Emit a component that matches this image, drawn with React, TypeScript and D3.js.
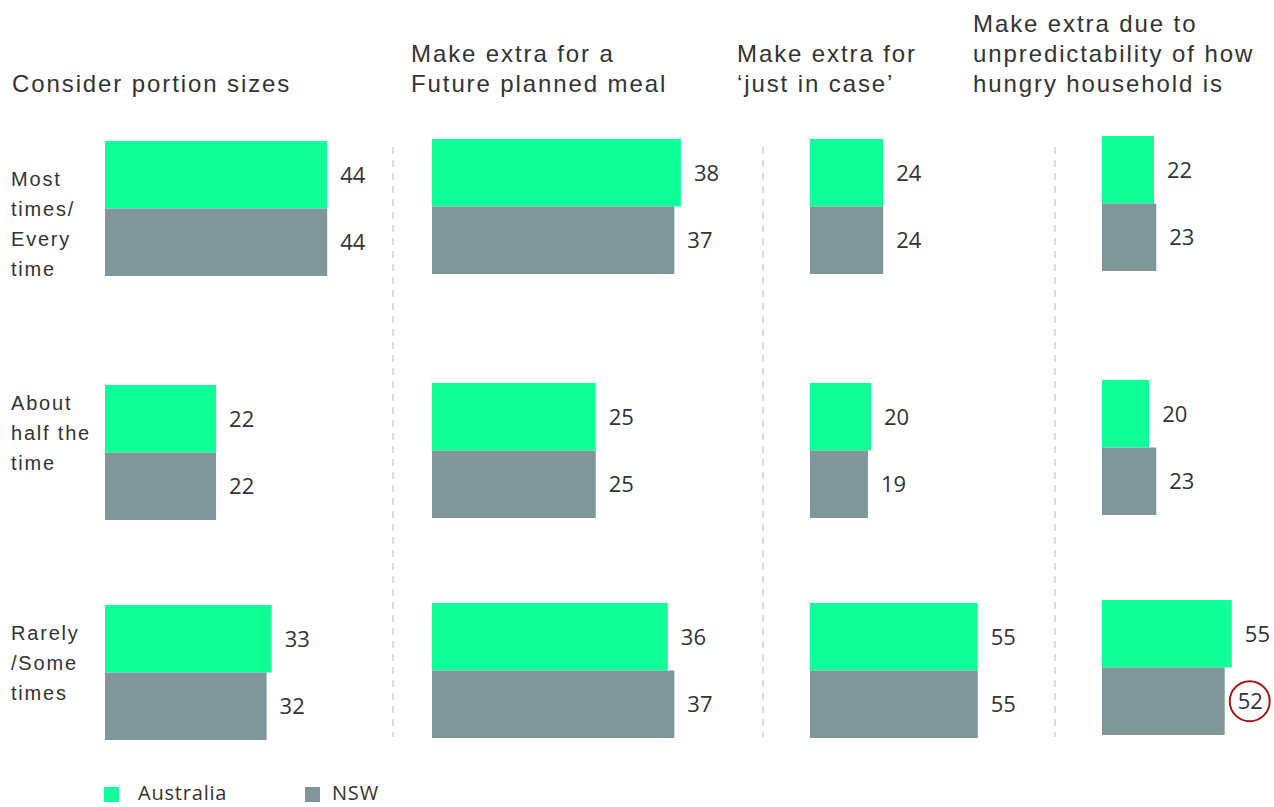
import React from "react";
import * as d3 from "d3";

// ---- Data ----
const series = ["Australia", "NSW"];
const categories = ["Most times/Every time", "About half the time", "Rarely/Some times"];
const categoryLines = [
  ["Most", "times/", "Every", "time"],
  ["About", "half the", "time"],
  ["Rarely", "/Some", "times"],
];
const panelTitles = [
  ["Consider portion sizes"],
  ["Make extra for a", "Future planned meal"],
  ["Make extra for", "\u2018just in case\u2019"],
  ["Make extra due to", "unpredictability of how", "hungry household is"],
];
// values per panel, in category order
const australiaValues = [
  [44, 22, 33],
  [38, 25, 36],
  [24, 20, 55],
  [22, 20, 55],
];
const nswValues = [
  [44, 22, 32],
  [37, 25, 37],
  [24, 19, 55],
  [23, 23, 52],
];
const highlighted = { panel: 3, category: 2, series: "NSW" };

// ---- Layout ----
const W = 1274;
const H = 807;
const panelX0 = [105, 432, 810, 1102];
const panelPxPerUnit = [5.05, 6.55, 3.05, 2.36];
const panelYOffset = [2, 0, 0, -3];
const rowTops = [139, 383, 603];
const groupHeight = 135;
const titleX = [12, 411, 737, 973];
const dividerX = [393, 763, 1055];
const labelFirstBaseline = [45, 25, 35];

const GREEN = "#10FF99";
const GRAY = "#809799";
const TEXT = "#333333";
const titleFont = "'Liberation Sans', Arial, sans-serif";
const numFont = "'Open Sans', sans-serif";

export default function App() {
  const yRow = d3.scaleOrdinal<string, number>().domain(categories).range(rowTops);
  const yInner = d3.scaleBand<string>().domain(series).range([0, groupHeight]).padding(0);
  const colors = d3.scaleOrdinal<string, string>().domain(series).range([GREEN, GRAY]);
  const dataBySeries = [australiaValues, nswValues];

  return (
    <svg width={W} height={H} style={{ position: "absolute", left: 0, top: 0, background: "#fff" }}>
      {/* dividers */}
      {dividerX.map((x, i) => (
        <line key={i} x1={x} x2={x} y1={147} y2={737} stroke="#cfcfcf" strokeWidth={1.5} strokeDasharray="7,6" />
      ))}

      {/* titles */}
      {panelTitles.map((lines, p) => (
        <text key={p} fontFamily={titleFont} fontSize={24} fill={TEXT} letterSpacing={1.9}>
          {lines.map((ln, i) => (
            <tspan key={i} x={titleX[p]} y={92 - (lines.length - 1 - i) * 30}>
              {ln}
            </tspan>
          ))}
        </text>
      ))}

      {/* category labels */}
      {categories.map((c, ci) => (
        <text key={c} fontFamily={titleFont} fontSize={20} fill={TEXT} letterSpacing={1.8}>
          {categoryLines[ci].map((ln, i) => (
            <tspan key={i} x={11} y={(yRow(c) as number) + panelYOffset[0] + labelFirstBaseline[ci] + i * 30}>
              {ln}
            </tspan>
          ))}
        </text>
      ))}

      {/* panels */}
      {panelX0.map((x0, p) => {
        const x = d3.scaleLinear().domain([0, 100]).range([x0, x0 + 100 * panelPxPerUnit[p]]);
        return (
          <g key={p}>
            {categories.map((c, ci) =>
              series.map((s, si) => {
                const v = dataBySeries[si][p][ci];
                const y = (yRow(c) as number) + panelYOffset[p] + (yInner(s) as number);
                const h = yInner.bandwidth();
                const lx = x(v) + 13;
                const ly = y + h / 2;
                const isHi = highlighted.panel === p && highlighted.category === ci && highlighted.series === s;
                return (
                  <g key={c + s}>
                    <rect x={x(0)} y={y} width={x(v) - x(0)} height={h} fill={colors(s)} />
                    <text
                      x={lx}
                      y={ly}
                      dy="0.36em"
                      fontFamily={numFont}
                      fontSize={22}
                      fill={TEXT}
                    >
                      {v}
                    </text>
                    {isHi && (
                      <circle cx={lx + 12} cy={ly} r={20} fill="none" stroke="#a31515" strokeWidth={2} />
                    )}
                  </g>
                );
              })
            )}
          </g>
        );
      })}

      {/* legend */}
      {series.map((s, i) => {
        const lx = [104, 305][i];
        return (
          <g key={s}>
            <rect x={lx} y={787} width={15} height={15} fill={colors(s)} />
            <text x={lx + [34, 27][i]} y={800} fontFamily={numFont} fontSize={20} fill={TEXT} letterSpacing={0.8}>
              {s}
            </text>
          </g>
        );
      })}
    </svg>
  );
}
